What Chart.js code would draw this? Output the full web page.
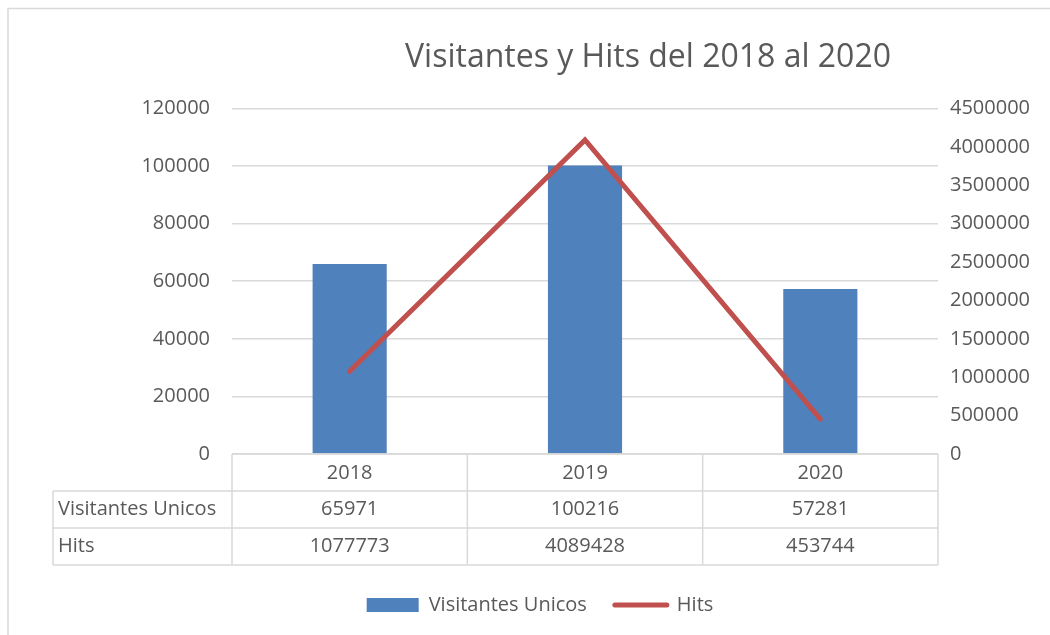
<!DOCTYPE html>
<html>
<head>
<meta charset="utf-8">
<script src="https://cdn.jsdelivr.net/npm/chart.js@4.4.0/dist/chart.umd.min.js"></script>
<style>
  html, body { margin: 0; padding: 0; background: #fff; }
  #wrap { width: 1050px; height: 635px; }
</style>
</head>
<body>
<div id="wrap"><canvas id="myChart" width="1050" height="635"></canvas></div>
<script>
const years = ['2018', '2019', '2020'];
const visitantes = [65971, 100216, 57281];
const hits = [1077773, 4089428, 453744];
const leftTicks = [0, 20000, 40000, 60000, 80000, 100000, 120000];
const rightTicks = [0, 500000, 1000000, 1500000, 2000000, 2500000, 3000000, 3500000, 4000000, 4500000];

const textColor = '#595959';
const lineGray = '#d9d9d9';
const font = 'Open Sans';

// draws the Excel style data table under the x axis + the outer frame
const tablePlugin = {
  id: 'dataTable',
  afterLayout(chart) {
    // nudge title and legend to where Excel put them
    const t = chart.titleBlock;
    t.left += 123; t.right += 123;
    const lg = chart.legend;
    lg.left += 15; lg.right += 15;
    lg.top -= 10; lg.bottom -= 10;
  },
  beforeDraw(chart) {
    const ctx = chart.ctx;
    ctx.save();
    ctx.strokeStyle = lineGray;
    ctx.lineWidth = 1.5;
    ctx.strokeRect(8, 8.5, 1100, 700);
    ctx.restore();
  },
  afterDraw(chart) {
    const { ctx, chartArea, scales: { x } } = chart;
    const half = (x.getPixelForValue(1) - x.getPixelForValue(0)) / 2;
    const top = chartArea.bottom;
    const rowH = 37;
    const labelLeft = 53;
    const left = chartArea.left, right = chartArea.right;
    const rows = [['Visitantes Unicos', visitantes], ['Hits', hits]];

    ctx.save();
    ctx.strokeStyle = lineGray;
    ctx.lineWidth = 1.5;
    ctx.beginPath();
    // top line of header row
    ctx.moveTo(left, top); ctx.lineTo(right, top);
    // horizontal lines of data rows
    for (let r = 1; r <= rows.length + 1; r++) {
      ctx.moveTo(labelLeft, top + rowH * r);
      ctx.lineTo(right, top + rowH * r);
    }
    // verticals
    ctx.moveTo(labelLeft, top + rowH); ctx.lineTo(labelLeft, top + rowH * 3);
    years.forEach((y, i) => {
      const cx = x.getPixelForValue(i);
      ctx.moveTo(cx - half, top); ctx.lineTo(cx - half, top + rowH * 3);
    });
    ctx.moveTo(right, top); ctx.lineTo(right, top + rowH * 3);
    ctx.stroke();

    ctx.fillStyle = textColor;
    ctx.font = '20px "' + font + '"';
    ctx.textBaseline = 'middle';
    rows.forEach(([label, vals], r) => {
      const cy = top + rowH * (r + 1) + rowH / 2;
      ctx.textAlign = 'left';
      ctx.fillText(label, labelLeft + 5, cy);
      ctx.textAlign = 'center';
      vals.forEach((v, i) => ctx.fillText(String(v), x.getPixelForValue(i), cy));
    });
    ctx.restore();
  }
};

const data = {
  labels: years,
  datasets: [
    {
      type: 'bar',
      label: 'Visitantes Unicos',
      data: visitantes,
      backgroundColor: '#4f81bd',
      borderColor: '#4f81bd',
      borderWidth: 0,
      yAxisID: 'y',
      categoryPercentage: 0.63,
      barPercentage: 0.5,
      order: 1
    },
    {
      type: 'line',
      label: 'Hits',
      data: hits,
      borderColor: '#c0504d',
      backgroundColor: '#c0504d',
      borderWidth: 5,
      borderCapStyle: 'round',
      pointRadius: 0,
      tension: 0,
      yAxisID: 'y2',
      order: 0
    }
  ]
};

const config = {
  type: 'bar',
  data,
  options: {
    responsive: false,
    animation: false,
    layout: { padding: 0 },
    plugins: {
      title: {
        display: true,
        text: 'Visitantes y Hits del 2018 al 2020',
        color: textColor,
        font: { family: font, size: 32, weight: 'normal' },
        padding: { top: 39, bottom: 31 }
      },
      legend: {
        position: 'bottom',
        labels: {
          color: textColor,
          font: { family: font, size: 20 },
          usePointStyle: true,
          pointStyleWidth: 52,
          boxHeight: 14,
          padding: 28,
          sort: (a, b) => a.datasetIndex - b.datasetIndex,
          generateLabels(chart) {
            return chart.data.datasets.map((ds, i) => ({
              text: ds.label,
              datasetIndex: i,
              fillStyle: ds.backgroundColor,
              strokeStyle: ds.borderColor,
              lineWidth: ds.type === 'line' ? 5 : 0,
              lineCap: 'round',
              pointStyle: ds.type === 'line' ? 'line' : 'rect',
              fontColor: textColor,
              hidden: false
            }));
          }
        }
      },
      tooltip: { enabled: false }
    },
    scales: {
      x: {
        grid: { display: false, drawTicks: false },
        border: { display: false },
        ticks: { color: textColor, font: { family: font, size: 20 }, padding: 7 },
        afterFit(s) { s.height = 123; }
      },
      y: {
        position: 'left',
        min: 0,
        max: leftTicks[leftTicks.length - 1],
        ticks: {
          stepSize: leftTicks[1] - leftTicks[0],
          color: textColor,
          font: { family: font, size: 20 },
          padding: 22,
          callback: (v) => String(v)
        },
        grid: { color: lineGray, lineWidth: 1.5, drawTicks: false },
        border: { display: false },
        afterFit(s) { s.width = 232; }
      },
      y2: {
        position: 'right',
        min: 0,
        max: rightTicks[rightTicks.length - 1],
        ticks: {
          stepSize: rightTicks[1] - rightTicks[0],
          color: textColor,
          font: { family: font, size: 20 },
          padding: 12,
          callback: (v) => String(v)
        },
        grid: { display: false, drawTicks: false },
        border: { display: false },
        afterFit(s) { s.width = 112; }
      }
    }
  },
  plugins: [tablePlugin]
};

const myChart = new Chart(document.getElementById('myChart'), config);
</script>
</body>
</html>
